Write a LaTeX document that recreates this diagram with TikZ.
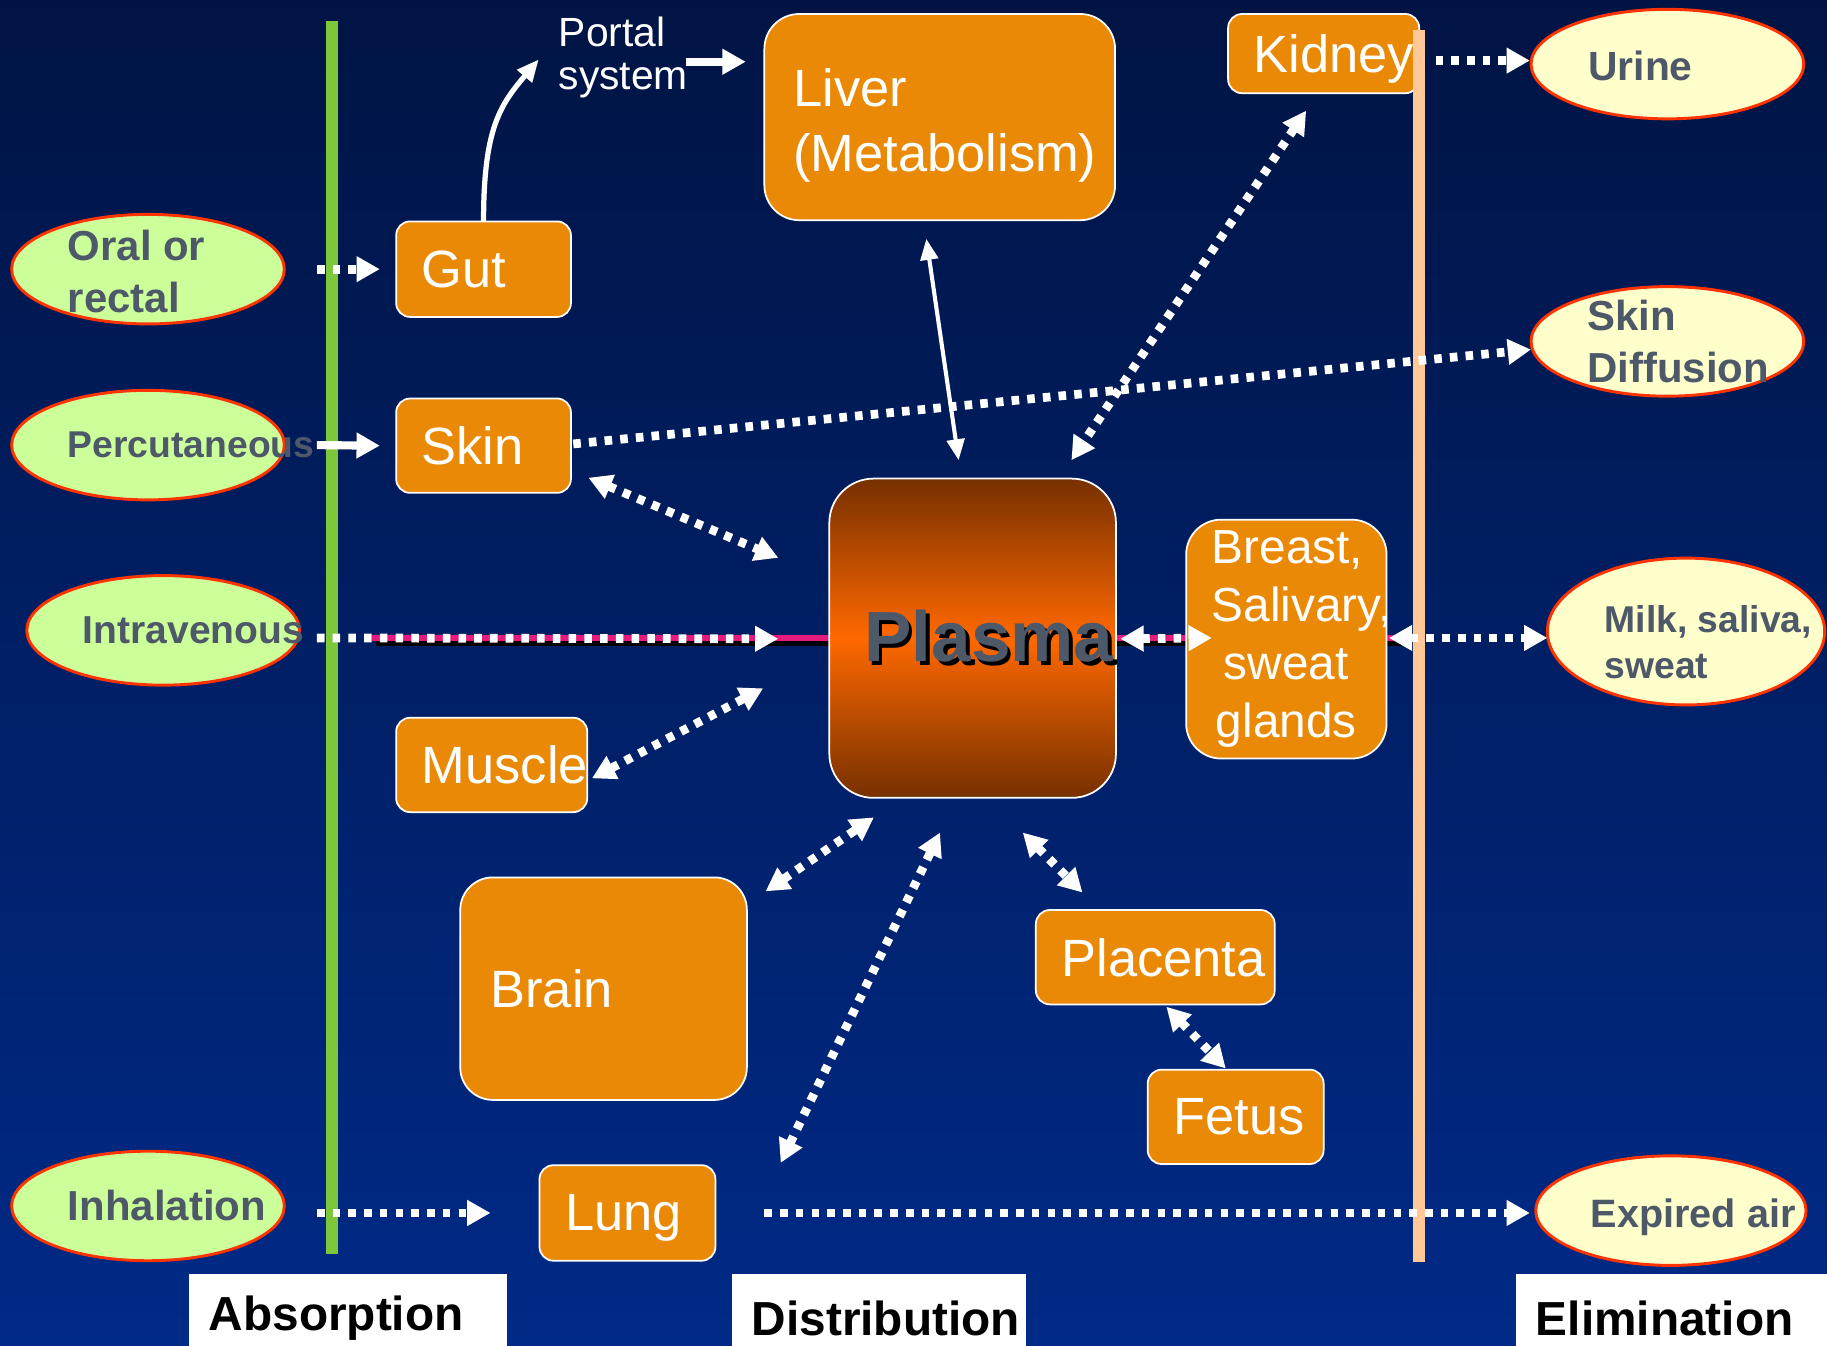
\documentclass[tikz,border=0pt]{standalone}
\usepackage{fontspec}
\setmainfont{Liberation Sans}
\usetikzlibrary{shapes.geometric,arrows.meta}
\definecolor{bgtop}{RGB}{0,20,68}
\definecolor{bgbot}{RGB}{0,42,135}
\definecolor{organ}{RGB}{234,137,5}
\definecolor{plasdark}{RGB}{118,48,0}
\definecolor{plasbright}{RGB}{255,104,0}
\definecolor{routein}{RGB}{204,255,153}
\definecolor{routeout}{RGB}{255,255,204}
\definecolor{rim}{RGB}{255,51,0}
\definecolor{routegray}{RGB}{77,88,105}
\definecolor{absline}{RGB}{125,200,58}
\definecolor{elimline}{RGB}{255,200,150}
\definecolor{ivpink}{RGB}{230,25,125}
\newcommand{\shadowed}[1]{\makebox[0pt][l]{\hspace{3pt}\raisebox{-3pt}{\color{black}#1}}#1}

\begin{document}
\begin{tikzpicture}[x=1pt,y=-1pt,
    >={Triangle[length=20pt,width=21pt]},
    organbox/.style={draw=white,line width=1.5pt,fill=organ,rounded corners=12pt,text=white,
      font=\fontsize{45}{55}\selectfont,anchor=north west,align=left,inner xsep=22pt,inner ysep=0pt,outer sep=0pt},
    route/.style={ellipse,draw=rim,line width=2.5pt,minimum width=234pt,minimum height=94pt,inner sep=0pt,outer sep=0pt},
    routetext/.style 2 args={text=routegray,align=left,anchor=west,inner sep=0pt,font=\bfseries\fontsize{#1}{#2}\selectfont},
    stage/.style={fill=white,anchor=north west,minimum height=77pt,inner xsep=17pt,inner ysep=0pt,align=left,
      font=\bfseries\fontsize{41}{50}\selectfont},
    dotlink/.style={white,line width=7.5pt,dash pattern=on 6.5pt off 7pt},
    push/.style={white,line width=7pt}]
  \useasboundingbox (0,0) rectangle (1568,1155);
  \clip (0,0) rectangle (1568,1155);
  \shade[top color=bgtop,bottom color=bgbot] (0,0) rectangle (1568,1155);
  \draw[absline,line width=10pt] (285,18) -- (285,1076);

  \node[route,fill=routein] (oral) at (127,231) {};
  \node[routetext={36}{45}] (oraltext) at ([shift={(48,2)}]oral.west) {Oral or\\rectal};
  \node[route,fill=routein] (percut) at (127,382) {};
  \node[routetext={32}{40},text depth=0pt] (percuttext) at ([shift={(48,0)}]percut.west) {Percutaneous};
  \node[route,fill=routein] (intra) at (140,541) {};
  \node[routetext={33.5}{42}] (intratext) at ([shift={(48,0)}]intra.west) {Intravenous};
  \node[route,fill=routein] (inhal) at (127,1035) {};
  \node[routetext={36}{45}] (inhaltext) at ([shift={(48,0)}]inhal.west) {Inhalation};

  \node[route,fill=routeout] (urine) at (1431,55) {};
  \node[routetext={35}{44}] (urinetext) at ([shift={(49,2)}]urine.west) {Urine};
  \node[route,fill=routeout] (skindiff) at (1431,293) {};
  \node[routetext={36}{45}] (skindifftext) at ([shift={(48,0)}]skindiff.west) {Skin\\Diffusion};
  \node[route,fill=routeout,minimum width=238pt,minimum height=126pt] (milk) at (1447,542) {};
  \node[routetext={32}{39}] (milktext) at ([shift={(49,9)}]milk.west) {Milk, saliva,\\sweat};
  \node[route,fill=routeout,minimum width=232pt] (expired) at (1434,1039) {};
  \node[routetext={34}{42},text depth=0pt] (expiredtext) at ([shift={(47,2)}]expired.west) {Expired air};

  \draw[black,line width=4pt] ([shift={(66,11)}]intra.east) -- (1210,552);
  \draw[ivpink,line width=5pt] ([shift={(62,6.5)}]intra.east) -- (1200,547.5);

  \node[organbox,text width=251pt,inner xsep=25pt,minimum height=177pt,rounded corners=30pt,text depth=50pt] (liver) at (656,12) {Liver\\(Metabolism)};
  \node[organbox,text width=120pt,minimum height=68pt,text depth=0pt] (kidney) at (1054,12) {Kidney};
  \node[organbox,text width=106pt,minimum height=82pt] (gut) at (340,190) {Gut};
  \node[organbox,text width=106pt,minimum height=81pt] (skin) at (340,342) {Skin};
  \node[organbox,text width=120pt,minimum height=81pt] (muscle) at (340,616) {Muscle};
  \node[organbox,text width=194pt,inner xsep=26pt,minimum height=191pt,rounded corners=28pt] (brain) at (395,753) {Brain};
  \node[organbox,text width=161pt,minimum height=81pt,text depth=0pt] (placenta) at (889,781) {Placenta};
  \node[organbox,text width=107pt,minimum height=81pt] (fetus) at (985,918) {Fetus};
  \node[organbox,text width=107pt,minimum height=82pt,text depth=0pt] (lung) at (463,1000) {Lung};
  \node[organbox,align=center,text width=128pt,minimum height=205pt,rounded corners=30pt,
        font=\fontsize{41}{50}\selectfont] (breast) at (1018,446) {Breast,\\Salivary,\\sweat\\glands};
  \node[draw=white,line width=1.5pt,rounded corners=38pt,top color=plasdark,bottom color=plasdark,
        middle color=plasbright,minimum width=246pt,minimum height=274pt,inner sep=0pt,anchor=north west,
        text=routegray,font=\bfseries\fontsize{61}{70}\selectfont] (plasma) at (711,410) {\hspace*{28pt}\shadowed{Plasma}};
  \node[text=white,align=left,inner sep=0pt,font=\fontsize{35}{37}\selectfont] (portal) at (535,49.5) {Portal\\system};

  \node[stage,text width=239pt] (absorb) at (162,1093) {Absorption};
  \node[stage,text width=218pt] (distrib) at (628,1093) {Distribution};
  \node[stage,text width=233pt] (elim) at (1301,1093) {Elimination};

  \draw[elimline,line width=10pt] (1218,26) -- (1218,1083);

  \draw[white,line width=4.5pt,>={Triangle[length=19pt,width=16pt]},->] (gut.north) .. controls +(0,-80) and +(-33,39) .. ([shift={(-17,1.5)}]portal.west);
  \draw[push,->] ([shift={(-2,3.5)}]portal.east) -- ([shift={(-16,-47.5)}]liver.west);
  \draw[dotlink,->] ([shift={(28,0)}]oral.east) -- ([shift={(-14,0)}]gut.west);
  \draw[push,->] ([shift={(28,0)}]percut.east) -- ([shift={(-14,0)}]skin.west);
  \draw[dotlink,->] ([shift={(2,-1.5)}]skin.east) -- ([shift={(0,7)}]skindiff.west);
  \draw[dotlink,<->] ([shift={(15,-13)}]skin.south east) -- ([shift={(-43,-69)}]plasma.west);
  \draw[white,line width=3.5pt,>={Triangle[length=18pt,width=15pt]},<->] ([shift={(-11.5,16)}]liver.south) -- ([shift={(-12,-15)}]plasma.north);
  \draw[dotlink,<->] ([shift={(-15,15)}]kidney.south) -- ([shift={(-39,-15)}]plasma.north east);
  \draw[dotlink,->] ([shift={(14,6)}]kidney.east) -- ([shift={(-1,-3)}]urine.west);
  \draw[dotlink,->] ([shift={(15,6.5)}]intra.east) -- ([shift={(-43,0.5)}]plasma.west);
  \draw[dotlink,<->] ([shift={(3,0.5)}]plasma.east) -- ([shift={(22,-1)}]breast.west);
  \draw[dotlink,<->] ([shift={(2,-1)}]breast.east) -- ([shift={(0,5.5)}]milk.west);
  \draw[dotlink,<->] ([shift={(4,11.5)}]muscle.east) -- ([shift={(-56,43)}]plasma.west);
  \draw[dotlink,<->] ([shift={(16,12)}]brain.north east) -- ([shift={(39,16)}]plasma.south west);
  \draw[dotlink,<->] ([shift={(56,-2)}]lung.north east) -- ([shift={(-28,29)}]plasma.south);
  \draw[dotlink,<->] ([shift={(43,29)}]plasma.south) -- ([shift={(-62.5,-15)}]placenta.north);
  \draw[dotlink,<->] ([shift={(9.5,2)}]placenta.south) -- ([shift={(-8.5,-1)}]fetus.north);
  \draw[dotlink,->] ([shift={(28,6)}]inhal.east) -- ([shift={(-42,0)}]lung.west);
  \draw[dotlink,->] ([shift={(42,0)}]lung.east) -- ([shift={(-5,2)}]expired.west);
\end{tikzpicture}
\end{document}
